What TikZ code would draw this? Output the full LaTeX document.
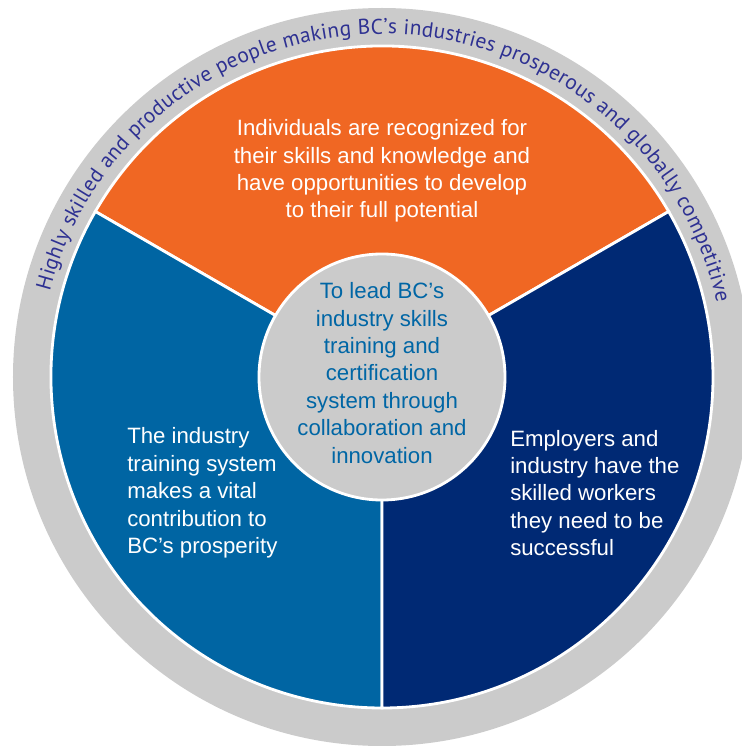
\documentclass[tikz,border=0pt]{standalone}
\usepackage{fontspec}
\setmainfont{Liberation Sans}
\newfontfamily\ringfont{PT Sans}
\usepackage{tikz}
\usetikzlibrary{decorations.text}
\definecolor{ringgray}{HTML}{CBCBCB}
\definecolor{ringtext}{HTML}{2E3192}
\definecolor{goalorange}{HTML}{F06723}
\definecolor{goalblue}{HTML}{0065A3}
\definecolor{goalnavy}{HTML}{002974}
\definecolor{hubblue}{HTML}{0066A5}
\tikzset{
  sector/.style={
    draw=white,
    line width=2pt
  },
  hubdisk/.style={
    circle,
    fill=ringgray,
    draw=white,
    line width=2pt,
    minimum size=61.5mm,
    inner sep=0pt
  },
  goaltext/.style={
    text=white,
    font=\fontsize{15.8}{19.5}\selectfont,
    inner sep=0pt
  },
  hubtext/.style={
    text=hubblue,
    align=center,
    font=\fontsize{15.8}{19.5}\selectfont,
    inner sep=0pt
  }
}

\begin{document}
\begin{tikzpicture}[x=0.25mm, y=0.25mm]
    \useasboundingbox (-382,-369) rectangle (359,377);
    % outer band with the vision
    \fill[ringgray] (0,0) circle (369);
    \path[decorate, decoration={text along path, text align={fit to path},
        text={|\ringfont\fontsize{15.2}{17}\selectfont|Highly skilled and productive people making BC’s industries prosperous and globally competitive},
        text color=ringtext}]
        (165.5:343) arc[start angle=165.5, end angle=12.6, radius=343];

    % the three goals
    \filldraw[sector, fill=goalorange] (0,0) -- (150:331) arc[start angle=150, end angle=30, radius=331] -- cycle;
    \filldraw[sector, fill=goalblue] (0,0) -- (150:331) arc[start angle=150, end angle=270, radius=331] -- cycle;
    \filldraw[sector, fill=goalnavy] (0,0) -- (270:331) arc[start angle=270, end angle=390, radius=331] -- cycle;

    \node[goaltext, align=center] (people) at (0,206) {
        Individuals are recognized for\\
        their skills and knowledge and\\
        have opportunities to develop\\
        to their full potential
    };
    \node[goaltext, align=left, anchor=west] (system) at (-255,-116) {
        The industry\\
        training system\\
        makes a vital\\
        contribution to\\
        BC’s prosperity
    };
    \node[goaltext, align=left, anchor=west] (employers) at (128,-116) {
        Employers and\\
        industry have the\\
        skilled workers\\
        they need to be\\
        successful
    };

    % mission in the middle
    \node[hubdisk] (hub) at (0,0) {};
    \node[hubtext] (mission) at ([yshift=1mm]hub.center) {
        To lead BC’s\\
        industry skills\\
        training and\\
        certification\\
        system through\\
        collaboration and\\
        innovation
    };
\end{tikzpicture}
\end{document}
